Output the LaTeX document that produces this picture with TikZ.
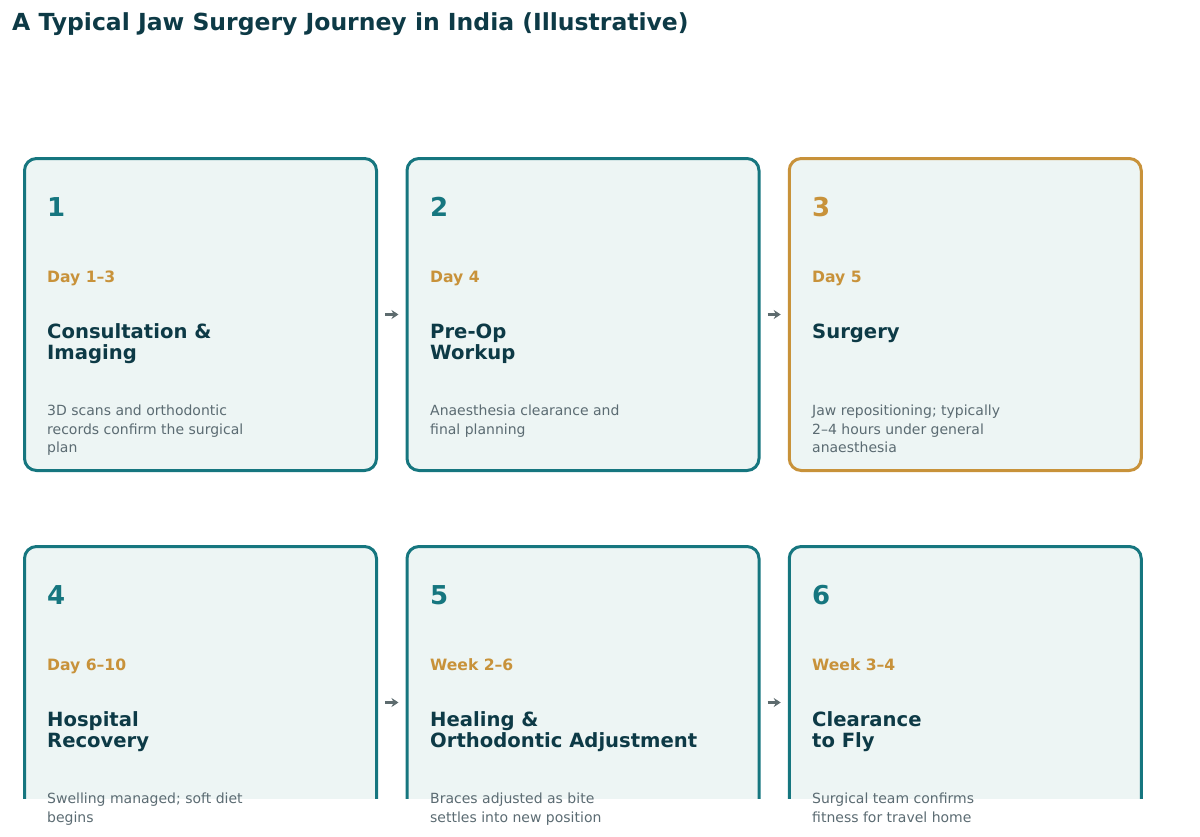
\documentclass[tikz,border=0pt]{standalone}
\usepackage{fontspec}
\setmainfont{DejaVu Sans}
\usetikzlibrary{arrows.meta}
\definecolor{teal}{HTML}{16767F}
\definecolor{gold}{HTML}{C8923A}
\definecolor{darkt}{HTML}{0D3A46}
\definecolor{graytxt}{HTML}{5B6B72}
\definecolor{cardfill}{HTML}{EDF5F4}
\definecolor{arrgray}{HTML}{5D6B6E}
\tikzset{
  card/.style={draw=teal, fill=cardfill, line width=3pt, rounded corners=12pt,
    minimum width=352pt, minimum height=312pt, inner sep=0pt, outer sep=0pt},
  goldcard/.style={card, draw=gold},
  numtxt/.style={anchor=base west, inner sep=0pt, text=teal, font=\fontsize{26}{30}\selectfont\bfseries},
  daytxt/.style={anchor=base west, inner sep=0pt, text=gold, font=\fontsize{15.6}{19}\selectfont\bfseries},
  ttltxt/.style={anchor=base west, inner sep=0pt, text=darkt, align=left, font=\fontsize{19.6}{21.8}\selectfont\bfseries},
  dsctxt/.style={anchor=base west, inner sep=0pt, text=graytxt, align=left, font=\fontsize{14}{18.6}\selectfont},
  flow/.style={draw=arrgray, line width=2.4pt, -{Stealth[length=7pt,width=9pt]}},
}
\begin{document}
\begin{tikzpicture}[x=1pt,y=-1pt]
\useasboundingbox (0,0) rectangle (1200,836);
\node[anchor=base west, inner sep=0pt, text=darkt, font=\fontsize{23.5}{26}\selectfont\bfseries] (title) at (12,30) {A Typical Jaw Surgery Journey in India (Illustrative)};
% row 1
\node[card] (b1) at (200.5,314.5) {};
\node[card] (b2) at (583,314.5) {};
\node[goldcard] (b3) at (965.25,314.5) {};
% row 2 (clipped)
\begin{scope}
\clip (0,0) rectangle (1200,798.5);
\node[card] (b4) at (200.5,702.5) {};
\node[card] (b5) at (583,702.5) {};
\node[card] (b6) at (965.25,702.5) {};
\end{scope}
\draw[flow] ([xshift=8.5pt]b1.east) -- ([xshift=-8.5pt]b2.west);
\draw[flow] ([xshift=8.5pt]b2.east) -- ([xshift=-8.5pt]b3.west);
\draw[flow] ([xshift=8.5pt]b4.east) -- ([xshift=-8.5pt]b5.west);
\draw[flow] ([xshift=8.5pt]b5.east) -- ([xshift=-8.5pt]b6.west);
% card 1 (multi-line nodes are placed by the baseline of their last line)
\node[numtxt] (n1) at (47,216) {1};
\node[daytxt] (d1) at (47,282.5) {Day 1–3};
\node[ttltxt] (t1) at (47,359.8) {Consultation \&\\Imaging};
\node[dsctxt] (s1) at (47,452.7) {3D scans and orthodontic\\records confirm the surgical\\plan};
% card 2
\node[numtxt] (n2) at (430,216) {2};
\node[daytxt] (d2) at (430,282.5) {Day 4};
\node[ttltxt] (t2) at (430,359.8) {Pre-Op\\Workup};
\node[dsctxt] (s2) at (430,434.1) {Anaesthesia clearance and\\final planning};
% card 3
\node[numtxt, text=gold] (n3) at (812,216) {3};
\node[daytxt] (d3) at (812,282.5) {Day 5};
\node[ttltxt] (t3) at (812,338) {Surgery};
\node[dsctxt] (s3) at (812,452.7) {Jaw repositioning; typically\\2–4 hours under general\\anaesthesia};
% card 4
\node[numtxt] (n4) at (47,604) {4};
\node[daytxt] (d4) at (47,670.5) {Day 6–10};
\node[ttltxt] (t4) at (47,747.8) {Hospital\\Recovery};
\node[dsctxt] (s4) at (47,822.1) {Swelling managed; soft diet\\begins};
% card 5
\node[numtxt] (n5) at (430,604) {5};
\node[daytxt] (d5) at (430,670.5) {Week 2–6};
\node[ttltxt] (t5) at (430,747.8) {Healing \&\\Orthodontic Adjustment};
\node[dsctxt] (s5) at (430,822.1) {Braces adjusted as bite\\settles into new position};
% card 6
\node[numtxt] (n6) at (812,604) {6};
\node[daytxt] (d6) at (812,670.5) {Week 3–4};
\node[ttltxt] (t6) at (812,747.8) {Clearance\\to Fly};
\node[dsctxt] (s6) at (812,822.1) {Surgical team confirms\\fitness for travel home};
\end{tikzpicture}
\end{document}
